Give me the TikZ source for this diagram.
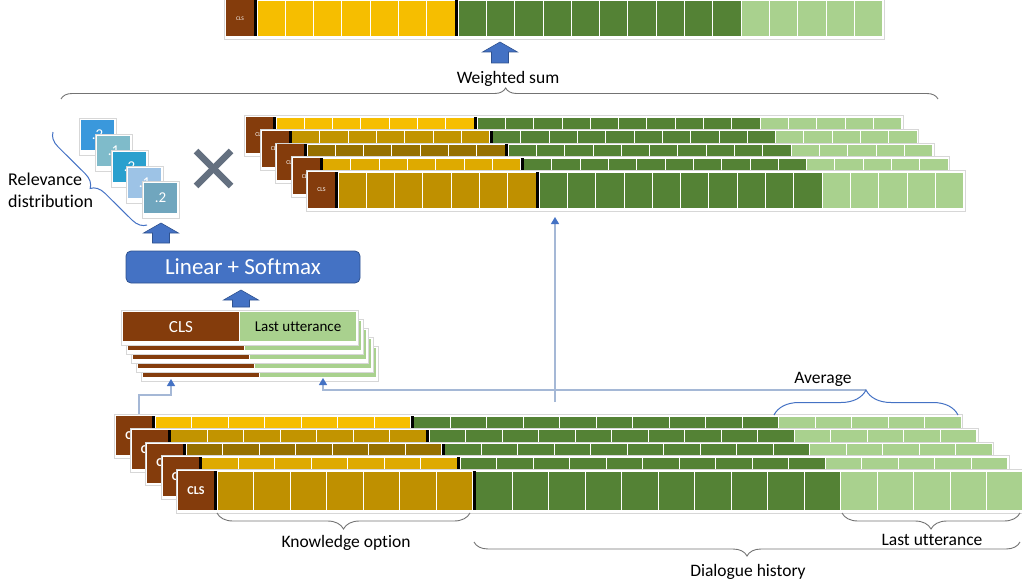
\documentclass[tikz,border=0pt]{standalone}
\usepackage{fontspec}
\setmainfont{Carlito}[Ligatures=CommonOff]
\usetikzlibrary{decorations.pathreplacing,arrows.meta,calc}

\definecolor{clsbrown}{RGB}{132,60,12}
\definecolor{goldA}{RGB}{246,190,0}
\definecolor{goldB}{RGB}{194,148,0}
\definecolor{goldC}{RGB}{150,112,0}
\definecolor{goldD}{RGB}{222,170,0}
\definecolor{goldE}{RGB}{191,144,0}
\definecolor{dkgreen}{RGB}{84,130,53}
\definecolor{ltgreen}{RGB}{169,209,142}
\definecolor{arrowblue}{RGB}{68,114,196}
\definecolor{arrowedge}{RGB}{47,82,143}
\definecolor{linkblue}{RGB}{165,184,214}
\definecolor{bracegray}{RGB}{115,115,115}
\definecolor{xgray}{RGB}{100,112,128}
\definecolor{framegray}{RGB}{215,215,215}
\definecolor{sqA}{RGB}{58,152,220}
\definecolor{sqB}{RGB}{127,187,202}
\definecolor{sqC}{RGB}{42,160,206}
\definecolor{sqD}{RGB}{157,195,230}
\definecolor{sqE}{RGB}{112,166,190}

\tikzset{
  cellsep/.style={draw=white, line width=0.9},
  clstext/.style={text=white, inner sep=0},
  framebox/.style={fill=white, draw=framegray, line width=0.6},
  link/.style={draw=linkblue, line width=1.3, -{Triangle[width=8pt,length=7pt,color=arrowblue]}},
  gbrace/.style={draw=bracegray, line width=0.9, decorate},
  bbrace/.style={draw=arrowblue, line width=1.0, decorate},
  lbl/.style={font=\fontsize{17.5}{21}\selectfont, inner sep=0},
  linbox/.style={fill=arrowblue, draw=arrowedge, line width=0.8, rounded corners=5pt,
    minimum width=234pt, minimum height=32pt, text=white, font=\fontsize{23}{25}\selectfont},
  blockarrow/.style={fill=arrowblue, draw=arrowedge, line width=0.6},
}

% token bar: x, y, height, cls width, cell width, gold colour, cls font, cls node name
\newcommand\tokbar[8]{%
  \pgfmathsetmacro\tbA{#1+#4}%
  \pgfmathsetmacro\tbB{\tbA+3}%
  \pgfmathsetmacro\tbC{\tbB+7*#5}%
  \pgfmathsetmacro\tbD{\tbC+3}%
  \pgfmathsetmacro\tbE{\tbD+10*#5}%
  \pgfmathsetmacro\tbF{\tbE+5*#5}%
  \pgfmathsetmacro\tbH{#2+#3}%
  \pgfmathsetmacro\tbM{#2+#3/2}%
  \pgfmathsetmacro\tbX{#1+#4/2}%
  \filldraw[framebox] ({#1-1.6},{#2-1.6}) rectangle ({\tbF+1.6},{\tbH+3.2});
  \fill[clsbrown] (#1,#2) rectangle (\tbA,\tbH);
  \foreach \k in {0,...,6}{\filldraw[fill=#6, cellsep] ({\tbB+\k*#5},#2) rectangle ({\tbB+(\k+1)*#5},\tbH);}
  \foreach \k in {0,...,9}{\filldraw[fill=dkgreen, cellsep] ({\tbD+\k*#5},#2) rectangle ({\tbD+(\k+1)*#5},\tbH);}
  \foreach \k in {0,...,4}{\filldraw[fill=ltgreen, cellsep] ({\tbE+\k*#5},#2) rectangle ({\tbE+(\k+1)*#5},\tbH);}
  \fill[black] (\tbA,#2) rectangle (\tbB,\tbH);
  \fill[black] (\tbC,#2) rectangle (\tbD,\tbH);
  \node[clstext, font=#7] (#8) at (\tbX,\tbM) {CLS};
}

% relevance square: x, y, colour, text, name
\newcommand\relsq[5]{%
  \filldraw[framebox] (#1,#2) rectangle ({#1+37},{#2+37});
  \fill[#3] ({#1+2},{#2+2}) rectangle ({#1+35},{#2+32});
  \node[text=white, inner sep=0, font=\fontsize{15}{15}\selectfont] (#5) at ({#1+18.5},{#2+17}) {#4};
}

% CLS / last utterance layer: x, y
\newcommand\clslayer[2]{%
  \filldraw[framebox] ({#1-2},{#2-2}) rectangle ({#1+235},{#2+33});
  \fill[clsbrown] (#1,#2) rectangle ({#1+116},{#2+29});
  \fill[ltgreen] ({#1+117},#2) rectangle ({#1+233},{#2+29});
}

% upward block arrow: centre x, tip y, bottom y
\newcommand\blockup[3]{%
  \filldraw[blockarrow] (#1,#2) -- ({#1+17.5},{#2+10}) -- ({#1+8.5},{#2+10}) -- ({#1+8.5},#3)
    -- ({#1-8.5},#3) -- ({#1-8.5},{#2+10}) -- ({#1-17.5},{#2+10}) -- cycle;
}

\begin{document}
\begin{tikzpicture}[x=1pt,y=-1pt]
\useasboundingbox (0,0) rectangle (1022,588);

% ---------- top bar ----------
\tokbar{226}{0}{36.5}{28}{28.3}{goldA}{\fontsize{5.5}{6}\selectfont}{topcls}
\blockup{500}{42}{63}

% weighted sum
\node[lbl] (wsum) at (508,79) {Weighted sum};
\coordinate (wsL) at (61,99);
\coordinate (wsR) at (938,99);
\draw[gbrace, decoration={brace, amplitude=11pt, aspect=0.507}] (wsL) -- (wsR);

% ---------- relevance distribution ----------
\relsq{79}{118}{sqA}{.2}{r1}
\relsq{95}{134}{sqB}{.1}{r2}
\relsq{111}{150}{sqC}{.2}{r3}
\relsq{126}{166}{sqD}{.1}{r4}
\relsq{142}{181}{sqE}{.2}{r5}
\coordinate (rbA) at (147,225);
\coordinate (rbB) at (53,132);
\draw[bbrace, decoration={brace, amplitude=14pt}] (rbA) -- (rbB);
\node[lbl, align=left, anchor=north west, font=\fontsize{18}{21.5}\selectfont] (reltxt) at (8,173) {Relevance\\distribution};

% multiplication sign
\draw[xgray, line width=6.5pt] (196,151) -- (231,186);
\draw[xgray, line width=6.5pt] (231,151) -- (196,186);

% ---------- middle stack ----------
\tokbar{246}{117}{36}{27}{28.3}{goldA}{\fontsize{6}{6}\selectfont}{mcls1}
\tokbar{261.5}{130.75}{36}{27}{28.3}{goldB}{\fontsize{6}{6}\selectfont}{mcls2}
\tokbar{277}{144.5}{36}{27}{28.3}{goldC}{\fontsize{6}{6}\selectfont}{mcls3}
\tokbar{292.5}{158.25}{36}{27}{28.3}{goldD}{\fontsize{6}{6}\selectfont}{mcls4}
\tokbar{308}{172}{36}{27}{28.3}{goldE}{\fontsize{6}{6}\selectfont}{mcls5}

% ---------- linear + softmax ----------
\blockup{161}{223}{243}
\node[linbox] (linear) at (243,267) {Linear + Softmax};
\blockup{241}{290}{307}

% ---------- CLS / last utterance stack ----------
\clslayer{143}{348}
\clslayer{138}{339}
\clslayer{133}{330}
\clslayer{128}{321}
\clslayer{123}{312}
\node[text=white, inner sep=0, font=\fontsize{17}{18}\selectfont] (clstxt) at (181,327) {CLS};
\node[text=black, inner sep=0, font=\fontsize{15}{16}\selectfont] (lasttxt) at (298,327) {Last utterance};

% ---------- bottom stack ----------
\tokbar{116}{416}{39}{36}{36.5}{goldA}{\bfseries\fontsize{12}{12}\selectfont}{bcls1}
\tokbar{131.5}{429.75}{39}{36}{36.5}{goldB}{\bfseries\fontsize{12}{12}\selectfont}{bcls2}
\tokbar{147}{443.5}{39}{36}{36.5}{goldC}{\bfseries\fontsize{12}{12}\selectfont}{bcls3}
\tokbar{162.5}{457.25}{39}{36}{36.5}{goldD}{\bfseries\fontsize{12}{12}\selectfont}{bcls4}
\tokbar{178}{471}{39}{36}{36.5}{goldE}{\bfseries\fontsize{12}{12}\selectfont}{bcls5}

% ---------- connectors ----------
\coordinate (vA) at (555,402);
\coordinate (vB) at (555,217);
\draw[link] (vA) -- (vB);
\coordinate (avgtip) at (866,390);
\coordinate (cbend) at (323,390);
\coordinate (clsin) at (323,378);
\draw[link] (avgtip) -- (cbend) -- (clsin);
\coordinate (elA) at (139,414);
\coordinate (el1) at (139,395);
\coordinate (el2) at (171,395);
\coordinate (elB) at (171,379);
\draw[link] (elA) -- (el1) -- (el2) -- (elB);

% ---------- braces & labels ----------
\coordinate (avL) at (774,415);
\coordinate (avR) at (958,415);
\draw[bbrace, decoration={brace, amplitude=25pt}] (avL) -- (avR);
\node[lbl] (avg) at (823,379) {Average};

\coordinate (koR) at (470,513);
\coordinate (koL) at (217,513);
\draw[gbrace, decoration={brace, amplitude=16pt}] (koR) -- (koL);
\node[lbl] (kotxt) at (346,543) {Knowledge option};

\coordinate (luR) at (1020,513);
\coordinate (luL) at (842,513);
\draw[gbrace, decoration={brace, amplitude=16pt}] (luR) -- (luL);
\node[lbl] (lutxt) at (932,540) {Last utterance};

\coordinate (dhR) at (1020,542);
\coordinate (dhL) at (474,542);
\draw[gbrace, decoration={brace, amplitude=14pt}] (dhR) -- (dhL);
\node[lbl] (dhtxt) at (748,572) {Dialogue history};

\end{tikzpicture}
\end{document}
